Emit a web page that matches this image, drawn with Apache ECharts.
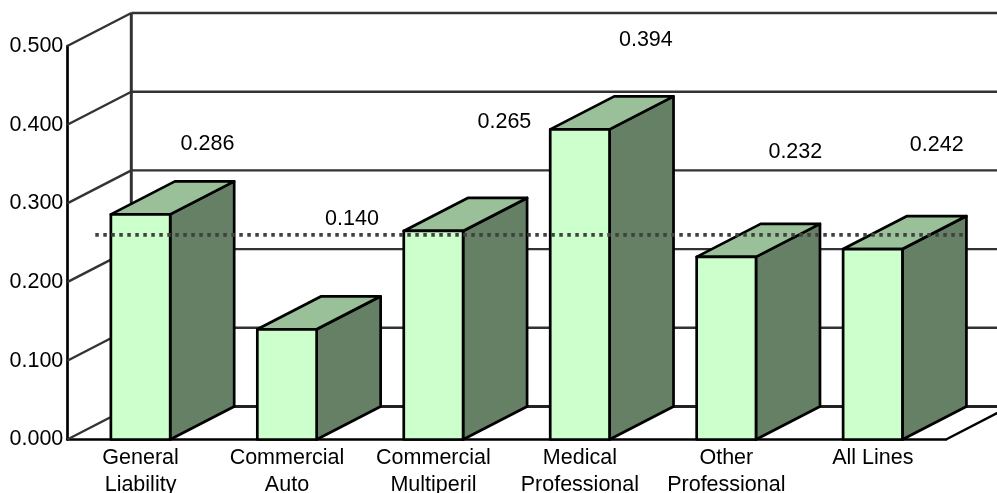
<!DOCTYPE html>
<html>
<head>
<meta charset="utf-8">
<style>html,body{margin:0;padding:0;background:#fff}#c{width:997px;height:493px}</style>
<script src="https://cdn.jsdelivr.net/npm/echarts@6/dist/echarts.min.js"></script>
</head>
<body>
<div id="c"></div>
<script>
var categories = ['General\nLiability', 'Commercial\nAuto', 'Commercial\nMultiperil', 'Medical\nProfessional', 'Other\nProfessional', 'All Lines'];
var values = [0.286, 0.140, 0.265, 0.394, 0.232, 0.242];
var valueLabels = ['0.286', '0.140', '0.265', '0.394', '0.232', '0.242'];
var labelHeights = [0.3755, 0.2802, 0.4035, 0.5077, 0.3654, 0.3743];
var wallTicks = [0, 0.1, 0.2, 0.3, 0.4, 0.5];
var referenceLevel = 0.26;

var FONT = '"Liberation Sans", Arial, sans-serif';
var DX = 64, DY = -33;
var BAR_RATIO = 0.405;
var LABEL_SHIFT = [67, 65, 71, 66, 69, 64];
var chart = echarts.init(document.getElementById('c'), null, {renderer: 'canvas'});

function wallItem(params, api) {
  var v = api.value(1);
  var p = api.coord([0, v]);
  var band = api.size([1, 0])[0];
  var x0 = p[0] - band / 2, y = p[1];
  var x1 = x0 + band * 6;
  var lineStyle = {stroke: '#333333', lineWidth: 2.4, fill: null};
  var kids = [
    {type: 'line', shape: {x1: x0, y1: y, x2: x0 + DX, y2: y + DY}, style: lineStyle},
    {type: 'line', shape: {x1: x0 + DX, y1: y + DY, x2: x1 + DX, y2: y + DY}, style: lineStyle}
  ];
  if (v === 0) {
    var top = api.coord([0, wallTicks[wallTicks.length - 1]])[1];
    kids.push({type: 'line', shape: {x1: x0 + DX, y1: y + DY, x2: x0 + DX, y2: top + DY}, style: {stroke: '#333333', lineWidth: 3}});
    kids.push({type: 'line', shape: {x1: x1, y1: y, x2: x1 + DX, y2: y + DY}, style: {stroke: '#000000', lineWidth: 2.4}});
    kids.push({type: 'line', shape: {x1: x0 + DX, y1: y + DY, x2: x1 + DX, y2: y + DY}, style: {stroke: '#222222', lineWidth: 3}});
  }
  return {type: 'group', children: kids};
}

function barItem(params, api) {
  var i = api.value(0), v = api.value(1);
  var top = api.coord([i, v]), bot = api.coord([i, 0]);
  var w = api.size([1, 0])[0] * BAR_RATIO;
  var l = top[0] - w / 2, r = top[0] + w / 2;
  function face(pts, fill) {
    return {type: 'polygon', shape: {points: pts}, style: {fill: fill, stroke: '#000000', lineWidth: 2.7, lineJoin: 'round'}};
  }
  return {type: 'group', children: [
    face([[r, top[1]], [r + DX, top[1] + DY], [r + DX, bot[1] + DY], [r, bot[1]]], '#668066'),
    face([[l, top[1]], [l + DX, top[1] + DY], [r + DX, top[1] + DY], [r, top[1]]], '#99C099'),
    face([[l, top[1]], [r, top[1]], [r, bot[1]], [l, bot[1]]], '#CCFFCC')
  ]};
}

function refItem(params, api) {
  var p = api.coord([0, api.value(1)]);
  var band = api.size([1, 0])[0];
  var x0 = p[0] - band / 2;
  return {type: 'line', shape: {x1: x0 + 28, y1: p[1], x2: x0 + band * 6 + 21, y2: p[1]},
    style: {stroke: '#404040', lineWidth: 3.6, lineDash: [3.5, 4.5]}};
}

function labelItem(params, api) {
  var i = api.value(0);
  var p = api.coord([i, api.value(1)]);
  return {type: 'text', style: {text: valueLabels[i], x: p[0] + LABEL_SHIFT[i], y: p[1],
    align: 'center', verticalAlign: 'middle', font: '21.5px ' + FONT, fill: '#000000'}};
}

chart.setOption({
  animation: false,
  backgroundColor: '#ffffff',
  grid: {left: 67.3, right: 51, top: 46, bottom: 53.5, containLabel: false, outerBoundsMode: 'none'},
  xAxis: {
    type: 'category', data: categories, boundaryGap: true,
    axisLine: {show: true, lineStyle: {color: '#000000', width: 2.7}},
    axisTick: {show: false},
    splitLine: {show: false},
    axisLabel: {interval: 0, color: '#000000', fontFamily: '"Liberation Sans", Arial, sans-serif', fontSize: 21.5, lineHeight: 27, margin: 5, hideOverlap: false}
  },
  yAxis: {
    type: 'value', min: 0, max: 0.5, interval: 0.1,
    axisLine: {show: true, lineStyle: {color: '#000000', width: 2.7}},
    axisTick: {show: false},
    splitLine: {show: false},
    axisLabel: {color: '#000000', fontFamily: '"Liberation Sans", Arial, sans-serif', fontSize: 21.5, margin: 4,
      formatter: function (v) { return v.toFixed(3); }}
  },
  series: [
    {type: 'custom', z: 1, renderItem: wallItem, clip: false, silent: true,
      data: wallTicks.map(function (t) { return [0, t]; }), encode: {x: 0, y: 1}},
    {type: 'custom', z: 3, renderItem: barItem, clip: false, silent: true,
      data: values.map(function (v, i) { return [i, v]; }), encode: {x: 0, y: 1}},
    {type: 'custom', z: 4, renderItem: refItem, clip: false, silent: true,
      data: [[0, referenceLevel]], encode: {x: 0, y: 1}},
    {type: 'custom', z: 5, renderItem: labelItem, clip: false, silent: true,
      data: labelHeights.map(function (v, i) { return [i, v]; }), encode: {x: 0, y: 1}}
  ]
});
</script>
</body>
</html>
